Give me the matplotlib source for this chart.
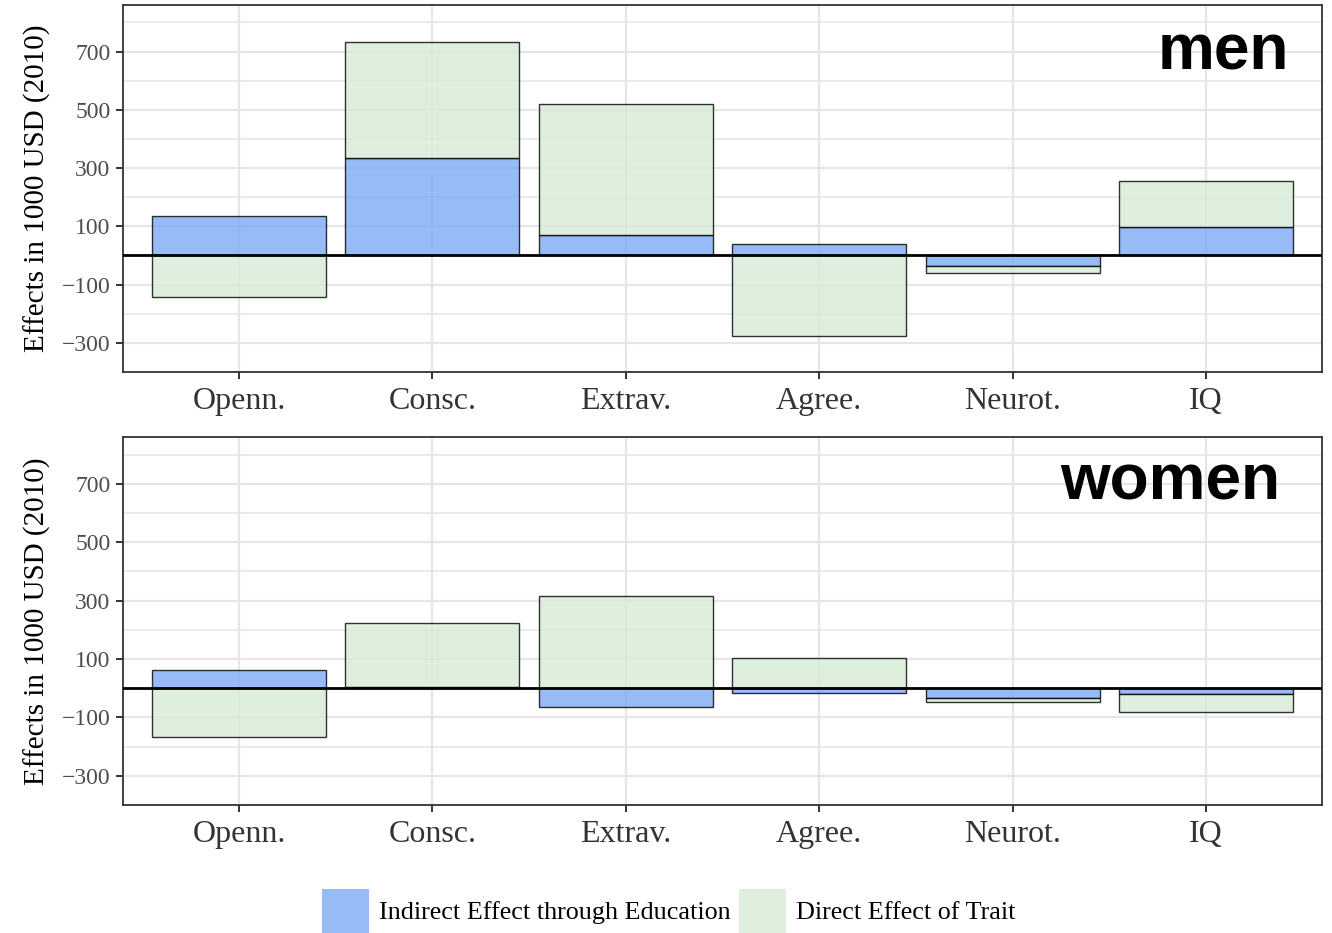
import numpy as np
import matplotlib
matplotlib.use("Agg")
import matplotlib.pyplot as plt
from matplotlib.patches import Patch
from matplotlib.ticker import FixedLocator

# Trait categories
traits = ["Openn.", "Consc.", "Extrav.", "Agree.", "Neurot.", "IQ"]

# Effects in 1000 USD (2010)
men_indirect = [137, 334, 71, 38, -37, 97]
men_direct = [-141, 399, 450, -277, -23, 158]
women_indirect = [62, 5, -65, -15, -32, -20]
women_direct = [-167, 219, 315, 104, -16, -63]

y_major = [-300, -100, 100, 300, 500, 700]
y_minor = [-400, -200, 0, 200, 400, 600, 800]

blue = "#7CAAF5"
green = "#D8ECD6"
bar_alpha = 0.8
serif = ["Liberation Serif", "DejaVu Serif"]
sans = ["Liberation Sans", "DejaVu Sans"]

W, H = 1332, 933
fig = plt.figure(figsize=(W / 100, H / 100), dpi=100)


def ax_rect(left, top, right, bottom):
    return [left / W, 1 - bottom / H, (right - left) / W, (bottom - top) / H]


def stacked_panel(ax, indirect, direct, label, lx, ly):
    x = np.arange(1, len(traits) + 1)
    ind = np.asarray(indirect, float)
    dr = np.asarray(direct, float)
    # positives stack upward, negatives stack downward, each from zero
    ind_base = np.zeros_like(ind)
    dr_base = np.where(np.sign(dr) == np.sign(ind), ind, 0.0)
    style = dict(width=0.9, edgecolor="black", linewidth=1.0, alpha=bar_alpha, zorder=3)
    ax.bar(x, ind, bottom=ind_base, color=blue, **style)
    ax.bar(x, dr, bottom=dr_base, color=green, **style)
    ax.axhline(0, color="black", linewidth=2.0, zorder=5)

    ax.set_xlim(0.4, 6.6)
    ax.set_ylim(-400, 860)
    ax.set_xticks(x)
    ax.set_xticklabels(traits, fontsize=23, family=serif, color="#333333")
    ax.yaxis.set_major_locator(FixedLocator(y_major))
    ax.yaxis.set_minor_locator(FixedLocator(y_minor))
    ax.set_yticklabels(["\u2212300", "\u2212100", "100", "300", "500", "700"],
                       fontsize=17, family=serif, color="#4D4D4D")
    ax.tick_params(axis="both", which="major", length=5, width=1.4,
                   color="#333333", pad=4)
    ax.tick_params(axis="y", which="minor", length=0)
    ax.tick_params(axis="x", pad=6)
    ax.grid(True, which="major", color="#E6E6E6", linewidth=1.6, zorder=0)
    ax.grid(True, which="minor", axis="y", color="#E6E6E6", linewidth=1.2, zorder=0)
    ax.set_axisbelow(True)
    for s in ax.spines.values():
        s.set_color("#333333")
        s.set_linewidth(1.3)
    ax.set_ylabel("Effects in 1000 USD (2010)", fontsize=21, family=serif,
                  color="black", labelpad=8)
    ax.text(lx, ly, label, transform=ax.transAxes, ha="right", va="baseline",
            fontsize=46, fontweight="bold", family=sans, color="black", zorder=6)


ax1 = fig.add_axes(ax_rect(123, 5, 1322, 372))
ax2 = fig.add_axes(ax_rect(123, 437, 1322, 805))
stacked_panel(ax1, men_indirect, men_direct, "men", 0.9725, 0.823)
stacked_panel(ax2, women_indirect, women_direct, "women", 0.965, 0.829)

handles = [Patch(facecolor=blue, alpha=bar_alpha, edgecolor="none",
                 label="Indirect Effect through Education"),
           Patch(facecolor=green, alpha=bar_alpha, edgecolor="none",
                 label="Direct Effect of Trait")]
fig.legend(handles=handles, loc="lower center", bbox_to_anchor=(0.502, 0.0),
           ncol=2, frameon=False, prop={"family": serif, "size": 18.8},
           handlelength=1.8, handleheight=2.2, handletextpad=0.38,
           columnspacing=0.35, borderpad=0, borderaxespad=0)

fig.savefig("out.png", dpi=100)
